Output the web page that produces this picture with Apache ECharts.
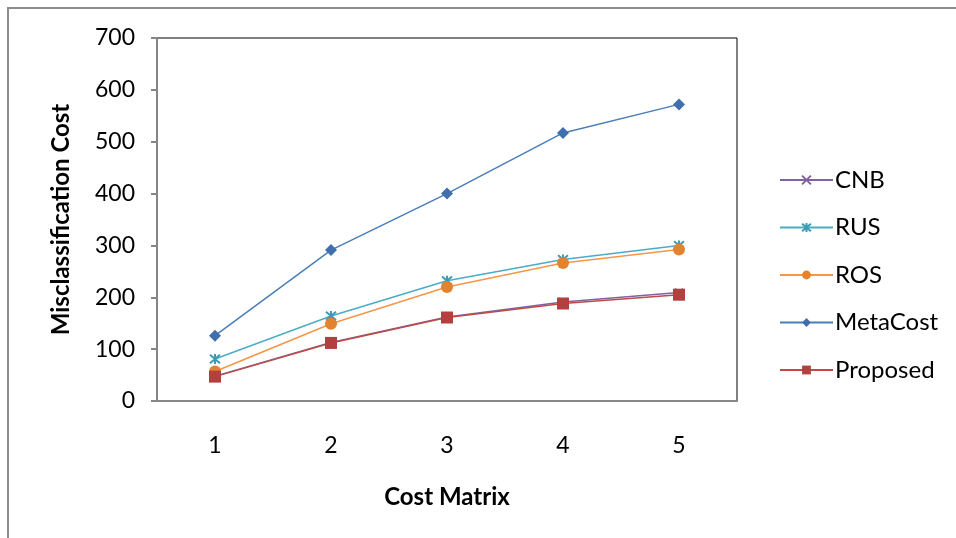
<!DOCTYPE html>
<html>
<head>
<meta charset="utf-8">
<script src="https://cdn.jsdelivr.net/npm/echarts@6/dist/echarts.min.js"></script>
<style>html,body{margin:0;padding:0;background:#fff}#c{width:956px;height:538px}</style>
</head>
<body>
<div id="c"></div>
<script>
const categories = ['1', '2', '3', '4', '5'];
const seriesNames = ['CNB', 'RUS', 'ROS', 'MetaCost', 'Proposed'];
const cnb = [48, 113, 162, 191, 209];
const rus = [81, 164, 232, 273, 300];
const ros = [57, 149, 220, 266, 292];
const metaCost = [126, 291, 400, 517, 572];
const proposed = [47, 112, 161, 188, 205];
const yTicks = [0, 100, 200, 300, 400, 500, 600, 700];

const FONT = 'Lato, "Open Sans", sans-serif';
const xPath = 'path://M0,0L10,10M10,0L0,10';
const starPath = 'path://M0,0L10,10M10,0L0,10M5,-1L5,11';

function mk(name, data, color, symbol, size, extra) {
  return Object.assign({
    name: name, type: 'line', data: data,
    symbol: symbol, symbolSize: size,
    lineStyle: { color: color, width: 1.5 },
    itemStyle: { color: color, borderColor: color, borderWidth: 0 },
    emphasis: { disabled: true },
    animation: false
  }, extra || {});
}

const chart = echarts.init(document.getElementById('c'), null, { renderer: 'canvas' });
chart.setOption({
  backgroundColor: '#fff',
  animation: false,
  textStyle: { fontFamily: FONT },
  graphic: [{
    type: 'rect', silent: true, z: -10,
    shape: { x: 8, y: 8, width: 1000, height: 600 },
    style: { fill: 'none', stroke: '#8c8c8c', lineWidth: 2 }
  }],
  grid: { left: 157, top: 38, width: 580, height: 363, show: true, borderColor: '#000', borderWidth: 1, backgroundColor: 'transparent' },
  legend: {
    orient: 'vertical', left: 779, top: 168, padding: 0,
    itemWidth: 53, itemHeight: 11, itemGap: 23.5,
    textStyle: { fontSize: 24, color: '#000', fontFamily: FONT, padding: [0, 0, 0, -3] },
    data: seriesNames
  },
  xAxis: {
    type: 'category', data: categories, boundaryGap: true,
    name: 'Cost Matrix', nameLocation: 'middle', nameGap: 84,
    nameTextStyle: { fontSize: 24, fontWeight: 'bold', color: '#000', fontFamily: FONT },
    axisLine: { lineStyle: { color: '#868686', width: 2 } },
    axisTick: { show: false },
    axisLabel: { fontSize: 23, color: '#000', margin: 33, fontFamily: FONT },
    splitLine: { show: false }
  },
  yAxis: {
    type: 'value', min: yTicks[0], max: yTicks[yTicks.length - 1], interval: 100,
    name: 'Misclassification Cost', nameLocation: 'middle', nameGap: 84,
    nameTextStyle: { fontSize: 24, fontWeight: 'bold', color: '#000', fontFamily: FONT },
    axisLine: { show: true, lineStyle: { color: '#868686', width: 2 } },
    axisTick: { show: true, length: 6, lineStyle: { color: '#868686', width: 2 } },
    axisLabel: { fontSize: 23, color: '#000', margin: 22, fontFamily: FONT },
    splitLine: { show: false }
  },
  series: [
    mk('CNB', cnb, '#7f63a1', xPath, 8, { itemStyle: { color: '#7f63a1', borderColor: '#7f63a1', borderWidth: 2 } }),
    mk('RUS', rus, '#4bacc6', starPath, 10, { itemStyle: { color: '#3c9ab3', borderColor: '#3c9ab3', borderWidth: 2 } }),
    mk('ROS', ros, '#f79646', 'circle', 12, { itemStyle: { color: '#e3822f', borderWidth: 0 } }),
    mk('MetaCost', metaCost, '#4a7ebb', 'diamond', 12, { itemStyle: { color: '#3f70ad', borderWidth: 0 } }),
    mk('Proposed', proposed, '#be4b48', 'rect', 12, { itemStyle: { color: '#b0413e', borderWidth: 0 } })
  ]
});
</script>
</body>
</html>
